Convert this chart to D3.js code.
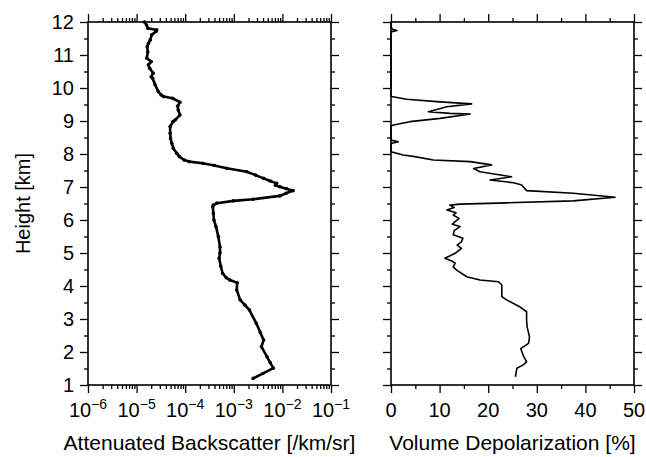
<!DOCTYPE html>
<html>
<head>
<meta charset="utf-8">
<script src="https://cdn.jsdelivr.net/npm/d3@7"></script>
<style>
  body { margin: 0; background: #fff; }
  svg text { font-family: "Liberation Sans", Arial, Helvetica, sans-serif; fill: #000; }
</style>
</head>
<body>
<div id="chart"></div>
<script>
// attenuated backscatter profile (height km, value /km/sr)
var backHeight = [12.0, 11.91, 11.81, 11.76, 11.71, 11.61, 11.45, 11.35, 11.25, 11.1, 10.9, 10.8, 10.7, 10.6, 10.45, 10.34, 10.29, 10.1, 9.89, 9.79, 9.74, 9.69, 9.57, 9.45, 9.33, 9.18, 9.03, 8.98, 8.83, 8.63, 8.47, 8.32, 8.17, 8.02, 7.92, 7.82, 7.77, 7.72, 7.65, 7.57, 7.46, 7.36, 7.26, 7.18, 7.11, 7.05, 7.01, 6.95, 6.89, 6.81, 6.73, 6.63, 6.58, 6.51, 6.45, 6.40, 6.2, 6.0, 5.8, 5.5, 5.19, 5.0, 4.84, 4.6, 4.38, 4.25, 4.18, 4.10, 3.88, 3.58, 3.42, 3.27, 2.87, 2.6, 2.36, 2.16, 1.86, 1.68, 1.51, 1.35, 1.20];
var backValue = [1.45e-5, 1.6e-5, 1.7e-5, 2.6e-5, 2.5e-5, 2.05e-5, 1.9e-5, 1.75e-5, 1.65e-5, 1.7e-5, 1.62e-5, 2.0e-5, 1.75e-5, 1.85e-5, 2.2e-5, 2.0e-5, 2.15e-5, 2.4e-5, 2.8e-5, 3.2e-5, 3.6e-5, 5.5e-5, 7.8e-5, 7.0e-5, 7.2e-5, 7.8e-5, 6.2e-5, 5.6e-5, 4.9e-5, 4.9e-5, 5.0e-5, 5.3e-5, 5.7e-5, 6.7e-5, 7.6e-5, 9.5e-5, 1.2e-4, 2.3e-4, 4.0e-4, 7.1e-4, 1.86e-3, 2.8e-3, 4.1e-3, 5.6e-3, 7.6e-3, 7.2e-3, 8.8e-3, 1.2e-2, 1.66e-2, 1.2e-2, 8.9e-3, 2.5e-3, 9.8e-4, 4.5e-4, 3.8e-4, 3.7e-4, 3.8e-4, 3.9e-4, 4.3e-4, 4.8e-4, 5.2e-4, 5.2e-4, 5.0e-4, 5.4e-4, 5.9e-4, 7.0e-4, 8.3e-4, 1.17e-3, 1.15e-3, 1.35e-3, 1.7e-3, 2.1e-3, 2.9e-3, 3.5e-3, 4.1e-3, 3.7e-3, 4.8e-3, 5.6e-3, 6.5e-3, 4.0e-3, 2.5e-3];

// volume depolarization profile (height km, percent)
var depolHeight = [12.0, 11.85, 11.78, 11.74, 11.70, 9.80, 9.74, 9.66, 9.58, 9.52, 9.43, 9.28, 9.23, 9.21, 9.08, 8.98, 8.88, 8.85, 8.42, 8.37, 8.32, 8.07, 7.97, 7.92, 7.82, 7.77, 7.67, 7.56, 7.46, 7.31, 7.21, 7.13, 7.06, 6.89, 6.81, 6.69, 6.58, 6.52, 6.48, 6.45, 6.38, 6.30, 6.22, 6.15, 6.05, 5.95, 5.87, 5.80, 5.68, 5.55, 5.45, 5.34, 5.24, 5.14, 4.99, 4.84, 4.76, 4.69, 4.58, 4.48, 4.28, 4.18, 4.13, 4.03, 3.68, 3.58, 3.37, 3.22, 2.97, 2.77, 2.46, 2.26, 2.10, 1.90, 1.70, 1.61, 1.51, 1.25];
var depolValue = [0, 0, 0.3, 1.2, 0, 0, 0.1, 3.2, 10.1, 16.6, 11.5, 7.7, 12.1, 16.3, 10.1, 3.9, 0.5, 0, 0, 1.5, 0, 0, 2.5, 4.9, 8.7, 16.3, 20.7, 17.0, 18.3, 24.8, 20.4, 25.2, 26.9, 27.9, 37.5, 46.1, 37.5, 23.8, 14.2, 12.1, 13.0, 11.5, 13.4, 12.8, 14.0, 13.2, 12.6, 14.2, 13.0, 12.8, 14.8, 14.5, 13.6, 14.5, 13.2, 11.1, 12.5, 13.2, 12.8, 13.5, 15.6, 18.3, 22.1, 22.8, 22.8, 23.8, 26.5, 27.9, 27.9, 28.0, 28.5, 28.3, 26.7, 27.2, 27.9, 27.2, 25.9, 25.6];

var heightTicks = [1, 2, 3, 4, 5, 6, 7, 8, 9, 10, 11, 12];
var backExponents = [-6, -5, -4, -3, -2, -1];
var depolTicks = [0, 10, 20, 30, 40, 50];

var W = 646, H = 457;
var top_ = 22, bottom_ = 385;
var leftPanel = {x0: 88, x1: 331};
var rightPanel = {x0: 391, x1: 634};

var svg = d3.select("#chart").append("svg")
    .attr("width", W).attr("height", H);

var y = d3.scaleLinear().domain([1, 12]).range([bottom_, top_]);
var xb = d3.scaleLog().domain([1e-6, 1e-1]).range([leftPanel.x0, leftPanel.x1]);
var xd = d3.scaleLinear().domain([0, 50]).range([rightPanel.x0, rightPanel.x1]);

var minorH = d3.range(1.5, 12, 1);

function drawFrame(x0, x1) {
  svg.append("rect")
    .attr("x", x0).attr("y", top_)
    .attr("width", x1 - x0).attr("height", bottom_ - top_)
    .attr("fill", "none").attr("stroke", "#000").attr("stroke-width", 1.6);
}

function addAxis(axis, tx, ty) {
  var g = svg.append("g")
    .attr("transform", "translate(" + tx + "," + ty + ")")
    .call(axis);
  g.select(".domain").remove();
  g.selectAll(".tick line").attr("stroke", "#000").attr("stroke-width", 1.3);
  return g;
}

function heightAxes(x0, x1, labels) {
  addAxis(d3.axisLeft(y).tickValues(heightTicks).tickSize(8).tickSizeOuter(0).tickFormat(""), x0, 0);
  addAxis(d3.axisLeft(y).tickValues(minorH).tickSize(4).tickSizeOuter(0).tickFormat(""), x0, 0);
  addAxis(d3.axisRight(y).tickValues(heightTicks).tickSize(8).tickSizeOuter(0).tickFormat(""), x1, 0);
  addAxis(d3.axisRight(y).tickValues(minorH).tickSize(4).tickSizeOuter(0).tickFormat(""), x1, 0);
  if (labels) {
    svg.append("g").selectAll("text")
      .data(heightTicks)
      .enter().append("text")
      .attr("x", x0 - 14)
      .attr("y", function(d) { return y(d); })
      .attr("dy", "0.36em")
      .attr("text-anchor", "end")
      .style("font-size", "20px")
      .text(function(d) { return d; });
  }
}

// ---- left panel: backscatter ----
var backMajor = backExponents.map(function(e) { return Math.pow(10, e); });
var backMinor = [];
backExponents.slice(0, -1).forEach(function(e) {
  for (var k = 2; k <= 9; k++) backMinor.push(k * Math.pow(10, e));
});

addAxis(d3.axisBottom(xb).tickValues(backMajor).tickSize(8).tickSizeOuter(0).tickFormat(""), 0, bottom_);
addAxis(d3.axisBottom(xb).tickValues(backMinor).tickSize(4).tickSizeOuter(0).tickFormat(""), 0, bottom_);
addAxis(d3.axisTop(xb).tickValues(backMajor).tickSize(8).tickSizeOuter(0).tickFormat(""), 0, top_);
addAxis(d3.axisTop(xb).tickValues(backMinor).tickSize(4).tickSizeOuter(0).tickFormat(""), 0, top_);
heightAxes(leftPanel.x0, leftPanel.x1, true);

var expLabels = svg.append("g").selectAll("text")
  .data(backExponents)
  .enter().append("text")
  .attr("x", function(d) { return xb(Math.pow(10, d)); })
  .attr("y", 417)
  .attr("text-anchor", "middle")
  .style("font-size", "20px");
expLabels.append("tspan").text("10");
expLabels.append("tspan")
  .attr("dy", "-0.55em")
  .style("font-size", "14px")
  .text(function(d) { return "\u2212" + Math.abs(d); });

var backData = backHeight.map(function(h, i) { return {h: h, v: backValue[i]}; });
var lineB = d3.line()
  .x(function(d) { return xb(d.v); })
  .y(function(d) { return y(d.h); });

svg.append("path")
  .datum(backData)
  .attr("d", lineB)
  .attr("fill", "none").attr("stroke", "#000")
  .attr("stroke-width", 2.6).attr("stroke-linejoin", "round").attr("stroke-linecap", "round");

svg.append("g").selectAll("circle")
  .data(backData)
  .enter().append("circle")
  .attr("cx", function(d) { return xb(d.v); })
  .attr("cy", function(d) { return y(d.h); })
  .attr("r", 1.8)
  .attr("fill", "#000");

drawFrame(leftPanel.x0, leftPanel.x1);

svg.append("text")
  .attr("x", (leftPanel.x0 + leftPanel.x1) / 2)
  .attr("y", 450)
  .attr("text-anchor", "middle")
  .style("font-size", "21px")
  .text("Attenuated Backscatter [/km/sr]");

svg.append("text")
  .attr("transform", "translate(30," + ((top_ + bottom_) / 2) + ") rotate(-90)")
  .attr("text-anchor", "middle")
  .style("font-size", "20px")
  .text("Height [km]");

// ---- right panel: depolarization ----
var depolMinor = d3.range(5, 50, 10);
addAxis(d3.axisBottom(xd).tickValues(depolTicks).tickSize(8).tickSizeOuter(0).tickFormat(""), 0, bottom_);
addAxis(d3.axisBottom(xd).tickValues(depolMinor).tickSize(4).tickSizeOuter(0).tickFormat(""), 0, bottom_);
addAxis(d3.axisTop(xd).tickValues(depolTicks).tickSize(8).tickSizeOuter(0).tickFormat(""), 0, top_);
addAxis(d3.axisTop(xd).tickValues(depolMinor).tickSize(4).tickSizeOuter(0).tickFormat(""), 0, top_);
heightAxes(rightPanel.x0, rightPanel.x1, false);

svg.append("g").selectAll("text")
  .data(depolTicks)
  .enter().append("text")
  .attr("x", function(d) { return xd(d); })
  .attr("y", 417)
  .attr("text-anchor", "middle")
  .style("font-size", "20px")
  .text(function(d) { return d; });

var depolData = depolHeight.map(function(h, i) { return {h: h, v: depolValue[i]}; });
var lineD = d3.line()
  .x(function(d) { return xd(d.v); })
  .y(function(d) { return y(d.h); });

svg.append("path")
  .datum(depolData)
  .attr("d", lineD)
  .attr("fill", "none").attr("stroke", "#000")
  .attr("stroke-width", 1.6).attr("stroke-linejoin", "round");

drawFrame(rightPanel.x0, rightPanel.x1);

svg.append("text")
  .attr("x", (rightPanel.x0 + rightPanel.x1) / 2)
  .attr("y", 450)
  .attr("text-anchor", "middle")
  .style("font-size", "21px")
  .text("Volume Depolarization [%]");
</script>
</body>
</html>
